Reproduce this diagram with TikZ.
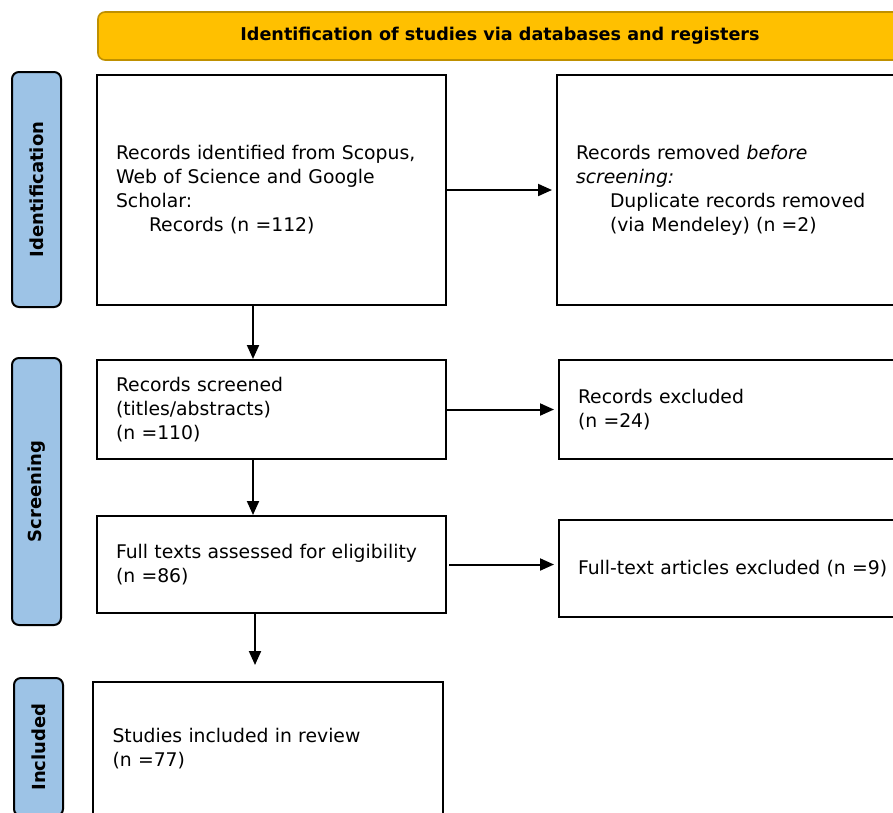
\documentclass[tikz,border=0pt]{standalone}
\usepackage{fontspec}
\setmainfont{DejaVu Sans}
\usetikzlibrary{positioning,calc,arrows.meta}
\definecolor{headyellow}{HTML}{FFC000}
\definecolor{headborder}{HTML}{BF9000}
\definecolor{stageblue}{HTML}{9DC3E6}

\begin{document}
\begin{tikzpicture}[x=1pt,y=-1pt,
	box/.style={draw, line width=2pt, minimum width=349pt, inner xsep=19pt, text width=311pt, align=left, font=\fontsize{18.8}{24}\selectfont},
	stage/.style={draw, line width=2pt, rounded corners=7pt, fill=stageblue, rotate=90, minimum height=49pt, font=\bfseries\fontsize{18}{22}\selectfont},
	flow/.style={line width=2pt, -{Triangle[length=14pt,width=12pt]}}]
		\useasboundingbox (0,0) rectangle (893,812);
		\clip (0,0) rectangle (893,812);
		\node[draw=headborder, line width=1.6pt, fill=headyellow, rounded corners=7pt, minimum width=804pt, minimum height=48pt, font=\bfseries\fontsize{17.6}{20}\selectfont] (head) at (500,36) {Identification of studies via databases and registers};
		% stages
		\node[stage, minimum width=235pt] (sIdent) at (36.5,189.5) {Identification};
		\node[stage, minimum width=267pt] (sScreen) at (36.5,491.5) {Screening};
		\node[stage, minimum width=138pt] (sIncl) at (38.5,747) {Included};
		% boxes
		\node[box, minimum height=230pt] (ident) at (271.5,190) {Records identified from Scopus,\\ Web of Science and Google\\ Scholar:\\ \hspace*{33pt}Records (n =112)};
		\node[box, minimum height=230pt, right=109pt of ident] (removed) {Records removed \textit{before}\\ \textit{screening:}\\ \hspace*{34pt}Duplicate records removed\\ \hspace*{34pt}(via Mendeley) (n =2)};
		\node[box, minimum height=99pt, below=53pt of ident] (screened) {Records screened\\ (titles/abstracts)\\ (n =110)};
		\node[box, minimum height=99pt, right=111pt of screened] (excl) {Records excluded\\ (n =24)};
		\node[box, minimum height=97pt, below=55pt of screened] (elig) {Full texts assessed for eligibility\\ (n =86)};
		\node[box, minimum height=97pt, right=111pt of elig, yshift=-4pt] (ftexcl) {Full-text articles excluded (n =9)};
		\node[box, minimum width=350pt, minimum height=134pt] (incl) at (268,749) {Studies included in review\\ (n =77)};
		\coordinate[below=51pt of elig.south, xshift=-16.5pt] (inclEnd);
		% arrows
		\draw[flow, shorten >=4pt] (ident) -- (removed);
		\draw[flow] ([xshift=-18.5pt]ident.south) -- ([xshift=-18.5pt]ident.south |- screened.north);
		\draw[flow, shorten >=4pt] (screened) -- (excl);
		\draw[flow] ([xshift=-18.5pt]screened.south) -- ([xshift=-18.5pt]screened.south |- elig.north);
		\draw[flow, shorten >=4pt] ([xshift=2pt]elig.east) -- (elig.east -| ftexcl.west);
		\draw[flow] (inclEnd |- elig.south) -- (inclEnd);
	\end{tikzpicture}
\end{document}
